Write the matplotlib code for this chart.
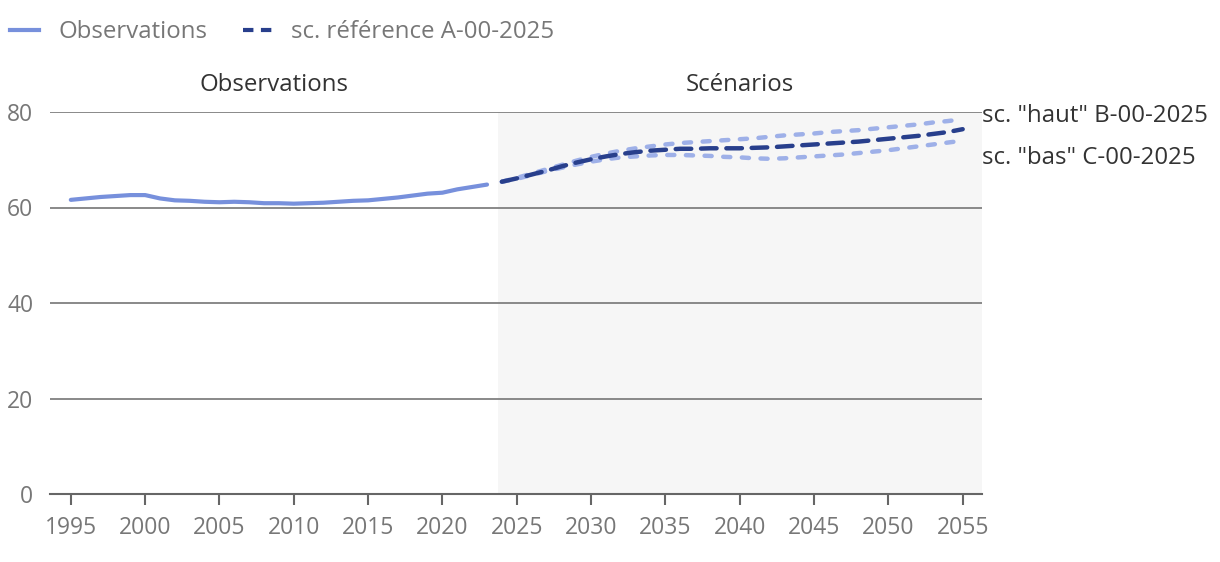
import numpy as np
import matplotlib
matplotlib.use("Agg")
import matplotlib.pyplot as plt
from matplotlib.lines import Line2D

plt.rcParams['font.family'] = ['Open Sans', 'DejaVu Sans']

# Observed values, 1995-2023
obs_years = np.arange(1995, 2024)
obs_values = [61.6, 61.9, 62.2, 62.4, 62.6, 62.6, 61.9, 61.5, 61.4, 61.2,
              61.1, 61.2, 61.1, 60.9, 60.9, 60.8, 60.9, 61.0, 61.2, 61.4,
              61.5, 61.8, 62.1, 62.5, 62.9, 63.1, 63.8, 64.3, 64.8]

# Scenarios, 2024-2055
sc_years = np.arange(2024, 2056)
sc_ref = [65.4, 66.1, 66.9, 67.7, 68.6, 69.4, 70.1, 70.7, 71.2, 71.6,
          71.9, 72.1, 72.3, 72.3, 72.4, 72.4, 72.4, 72.5, 72.6, 72.8,
          73.0, 73.2, 73.4, 73.6, 73.8, 74.1, 74.4, 74.7, 75.0, 75.4,
          75.8, 76.4]
sc_high = [65.4, 66.2, 67.1, 68.0, 68.9, 69.8, 70.6, 71.3, 71.9, 72.4,
           72.8, 73.2, 73.5, 73.7, 73.9, 74.1, 74.3, 74.5, 74.8, 75.1,
           75.3, 75.5, 75.8, 76.0, 76.2, 76.5, 76.8, 77.1, 77.4, 77.8,
           78.1, 78.5]
sc_low = [65.4, 66.0, 66.8, 67.6, 68.3, 69.0, 69.6, 70.1, 70.5, 70.7,
          70.9, 71.0, 71.0, 70.9, 70.8, 70.6, 70.5, 70.3, 70.2, 70.3,
          70.5, 70.7, 70.9, 71.1, 71.4, 71.7, 72.0, 72.4, 72.8, 73.2,
          73.6, 74.0]

labels = ["Observations", "sc. référence A-00-2025"]
side_labels = ['sc. "haut" B-00-2025', 'sc. "bas" C-00-2025']

c_obs = "#7790dc"
c_ref = "#283f8c"
c_alt = "#9eb0e8"
c_text = "#777777"
c_dark = "#333333"
c_grid = "#808080"
fs = 16.5      # tick labels
fs_t = 17.3    # other texts

fig = plt.figure(figsize=(12.2, 5.62), dpi=100, facecolor="white")
ax = fig.add_axes([50/1220, 68/562, 932/1220, 382/562])

x0, x1 = 1993.6, 2056.3
split = 2023.75
ax.set_xlim(x0, x1)
ax.set_ylim(0, 80)

# shaded scenario zone
ax.axvspan(split, x1, color="#f6f6f6", zorder=0, lw=0)

# grid
for v in [20, 40, 60, 80]:
    ax.axhline(v, color=c_grid, lw=1.3, zorder=1)

ax.plot(obs_years, obs_values, color=c_obs, lw=3, zorder=3,
        solid_capstyle='round')
ax.plot(sc_years, sc_high, color=c_alt, lw=3.2, zorder=3,
        linestyle=(0, (1.6, 2.6)), dash_capstyle='round')
ax.plot(sc_years, sc_low, color=c_alt, lw=3.2, zorder=3,
        linestyle=(0, (1.6, 2.6)), dash_capstyle='round')
ax.plot(sc_years, sc_ref, color=c_ref, lw=3.2, zorder=4,
        linestyle=(0, (3.5, 2.2)), dash_capstyle='round')

# axes style
for s in ['top', 'right', 'left']:
    ax.spines[s].set_visible(False)
ax.spines['bottom'].set_color("#666666")
ax.spines['bottom'].set_linewidth(1.5)
ax.set_xticks(np.arange(1995, 2056, 5))
ax.set_yticks([0, 20, 40, 60, 80])
ax.tick_params(axis='x', colors="#666666", length=8, width=1.5,
               labelcolor=c_text, labelsize=fs, pad=8)
ax.tick_params(axis='y', length=0, labelcolor=c_text, labelsize=fs, pad=12)

# section titles
ax.text((x0 + split) / 2, 85.7, "Observations", ha='center', va='center',
        fontsize=fs_t, color=c_dark)
ax.text((split + x1) / 2, 85.7, "Scénarios", ha='center', va='center',
        fontsize=fs_t, color=c_dark)

# labels on the right
ax.text(x1, sc_high[-1] + 0.6, side_labels[0], ha='left', va='center',
        fontsize=fs_t, color=c_dark, clip_on=False)
ax.text(x1, sc_low[-1] - 3.7, side_labels[1], ha='left', va='center',
        fontsize=fs_t, color=c_dark, clip_on=False)

# legend
handles = [Line2D([], [], color=c_obs, lw=3),
           Line2D([], [], color=c_ref, lw=3, linestyle=(0, (2.5, 1.8)))]
fig.legend(handles, labels, loc='center left',
           bbox_to_anchor=(10/1220, 1 - 32/562),
           ncol=2, frameon=False, fontsize=fs_t, labelcolor=c_text,
           borderpad=0, borderaxespad=0,
           handlelength=1.2, columnspacing=1.5, handletextpad=0.8)

plt.savefig("out.png", dpi=100)
